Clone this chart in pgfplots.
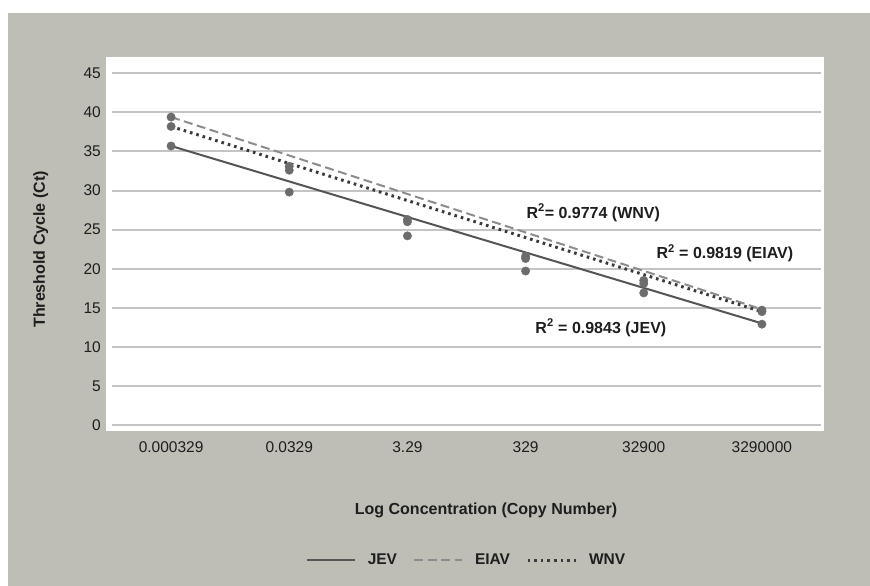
\documentclass[border=0pt]{standalone}
\usepackage{fontspec}
\setmainfont{Liberation Sans}
\usepackage{pgfplots}
\usepackage{pgfplotstable}
\pgfplotsset{compat=1.18}

\definecolor{bggray}{RGB}{190,190,182}
\definecolor{gridgray}{RGB}{196,196,196}
\definecolor{markgray}{RGB}{108,108,108}
\definecolor{jevline}{RGB}{85,85,85}
\definecolor{eiavline}{RGB}{140,140,140}
\definecolor{wnvline}{RGB}{58,58,58}
\definecolor{txt}{RGB}{30,30,30}

% Ct per dilution step (categories 0..5)
\pgfplotstableread{
x eiav wnv jev
0 39.4 38.2 35.7
1 33.1 32.6 29.8
2 26.3 26.0 24.2
3 21.6 21.3 19.7
4 18.5 18.1 16.9
5 14.7 14.5 12.9
}\ctdata

\begin{document}
\begin{tikzpicture}
\useasboundingbox (0pt,0pt) rectangle (870pt,586pt);
\fill[bggray] (8pt,0pt) rectangle (870pt,573pt);
\fill[white] (106pt,155pt) rectangle (824pt,529pt);
\begin{axis}[
  at={(112pt,161pt)}, anchor=south west,
  scale only axis, width=709pt, height=351.7pt,
  xmin=-0.5, xmax=5.5, ymin=0, ymax=45,
  xtick={0,...,5},
  xticklabels={0.000329,0.0329,3.29,329,32900,3290000},
  ytick={0,5,...,45},
  axis line style={draw=none},
  major tick length=0pt,
  ymajorgrids, grid style={gridgray, line width=2pt},
  /pgf/number format/assume math mode=true,
  tick label style={font=\fontsize{15.5}{18}\selectfont, text=txt},
  yticklabel style={inner sep=0pt, anchor=east, xshift=-11pt},
  xticklabel style={inner sep=0pt, anchor=base, yshift=-27.5pt},
  xlabel={Log Concentration (Copy Number)},
  ylabel={Threshold Cycle (Ct)},
  label style={font=\fontsize{16}{19}\bfseries, text=txt},
  xlabel style={at={(axis description cs:0.5275,-0.2437)}, anchor=center},
  ylabel style={at={(axis description cs:-0.1006,0.499)}, anchor=center},
  legend columns=3,
  legend style={draw=none, fill=none, inner sep=0pt,
    at={(0.4986,-0.384)}, anchor=center,
    nodes={inner sep=0pt, font=\fontsize{15.5}{18}\bfseries, text=txt},
    /tikz/every odd column/.append style={column sep=12pt},
    /tikz/every even column/.append style={column sep=16pt}},
  legend image code/.code={\draw[#1] (0pt,0pt) -- (48pt,0pt);},
]
\addplot[jevline, line width=2pt] coordinates {(0,35.7) (5,13.0)};
\addlegendentry{JEV}
\addplot[eiavline, line width=2pt, dash pattern=on 9pt off 4.5pt] coordinates {(0,39.4) (5,14.8)};
\addlegendentry{EIAV}
\addplot[wnvline, line width=3pt, dash pattern=on 2.6pt off 4pt] coordinates {(0,38.2) (5,14.5)};
\addlegendentry{WNV}

\addplot[only marks, mark=*, mark size=4.2pt, color=markgray, forget plot] table[x=x, y=eiav] {\ctdata};
\addplot[only marks, mark=*, mark size=4.2pt, color=markgray, forget plot] table[x=x, y=wnv] {\ctdata};
\addplot[only marks, mark=*, mark size=4.2pt, color=markgray, forget plot] table[x=x, y=jev] {\ctdata};

\node[anchor=base west, font=\fontsize{16}{19}\bfseries, text=txt] at (axis cs:2.978,26.48) {R\textsuperscript{2}= 0.9774 (WNV)};
\node[anchor=base west, font=\fontsize{16}{19}\bfseries, text=txt] at (axis cs:4.078,21.24) {R\textsuperscript{2} = 0.9819 (EIAV)};
\node[anchor=base west, font=\fontsize{16}{19}\bfseries, text=txt] at (axis cs:3.054,11.77) {R\textsuperscript{2} = 0.9843 (JEV)};
\end{axis}
\end{tikzpicture}
\end{document}
